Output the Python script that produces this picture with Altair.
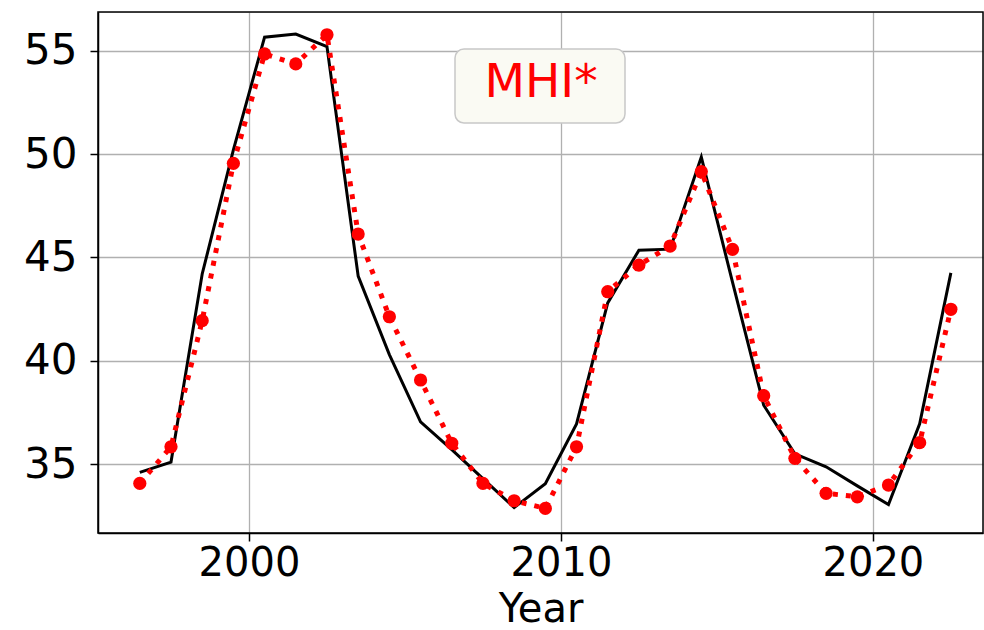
import altair as alt
import pandas as pd

years = [1996.5 + i for i in range(27)]
black_series = [34.6, 35.1, 44.2, 50.2, 55.65, 55.8, 55.2, 44.1, 40.3, 37.05,
                35.7, 34.3, 32.9, 34.05, 36.95, 42.8, 45.35, 45.4, 49.85, 43.8,
                37.85, 35.5, 34.87, 33.95, 33.05, 36.95, 44.25]
red_series = [34.07, 35.84, 41.94, 49.55, 54.84, 54.36, 55.77, 46.13, 42.13, 39.07,
              36.01, 34.07, 33.23, 32.86, 35.84, 43.34, 44.63, 45.55, 49.15, 45.39,
              38.31, 35.28, 33.59, 33.42, 33.99, 36.04, 42.49]
x_ticks = [2000, 2010, 2020]
y_ticks = [35, 40, 45, 50, 55]
legend_label = ["MHI*"]

df = pd.DataFrame({"year": years, "black": black_series, "red": red_series})
leg = pd.DataFrame({"label": legend_label})

FONT = "DejaVu Sans"
xscale = alt.Scale(domain=[1995.16, 2023.53], nice=False, zero=False)
yscale = alt.Scale(domain=[31.67, 56.87], nice=False, zero=False)

xenc = alt.X("year:Q", scale=xscale,
             axis=alt.Axis(values=x_ticks, format="d", title="Year",
                           labelFontSize=40, titleFontSize=40, labelFont=FONT, titleFont=FONT,
                           labelColor="black", titleColor="black", titleFontWeight="normal",
                           tickSize=8, tickWidth=1.5, tickColor="black",
                           domainColor="black", domainWidth=1.5,
                           grid=True, gridColor="#b0b0b0", gridWidth=1.3,
                           labelPadding=2, titleBaseline="alphabetic", titleY=88,
                           labelFlush=False))

base = alt.Chart(df)

black_line = base.mark_line(color="black", strokeWidth=3).encode(
    x=xenc,
    y=alt.Y("black:Q", scale=yscale,
            axis=alt.Axis(values=y_ticks, title=None,
                          labelFontSize=42, labelFont=FONT, labelColor="black",
                          tickSize=8, tickWidth=1.5, tickColor="black",
                          domainColor="black", domainWidth=1.5,
                          grid=True, gridColor="#b0b0b0", gridWidth=1.3,
                          labelPadding=13, labelFlush=False)),
)

red_line = base.mark_line(color="red", strokeWidth=5, strokeDash=[5, 8], strokeCap="butt").encode(
    x=alt.X("year:Q", scale=xscale),
    y=alt.Y("red:Q", scale=yscale),
)

red_pts = base.mark_circle(color="red", opacity=1, size=175).encode(
    x=alt.X("year:Q", scale=xscale),
    y=alt.Y("red:Q", scale=yscale),
)

frame = alt.Chart(leg).mark_rect(fill=None, stroke="black", strokeWidth=1.5).encode(
    x=alt.value(0), x2=alt.value(885), y=alt.value(0), y2=alt.value(521)
)

box = alt.Chart(leg).mark_rect(fill="#fafaf3", stroke="#c8c8c8", strokeWidth=1.5,
                               cornerRadius=9).encode(
    x=alt.value(357), x2=alt.value(527), y=alt.value(37), y2=alt.value(111)
)
txt = alt.Chart(leg).mark_text(fontSize=47, color="red", font=FONT, align="center",
                               baseline="alphabetic").encode(
    x=alt.value(443), y=alt.value(85), text="label:N"
)

chart = alt.layer(black_line, red_line, red_pts, frame, box, txt).properties(
    width=885, height=521,
    autosize=alt.AutoSizeParams(type="none"),
    padding={"left": 98, "top": 12, "right": 1, "bottom": 97},
).configure_view(stroke="black", strokeWidth=1.5).configure(background="white")

chart.save("out.html", embed_options={"renderer": "svg", "actions": False})
